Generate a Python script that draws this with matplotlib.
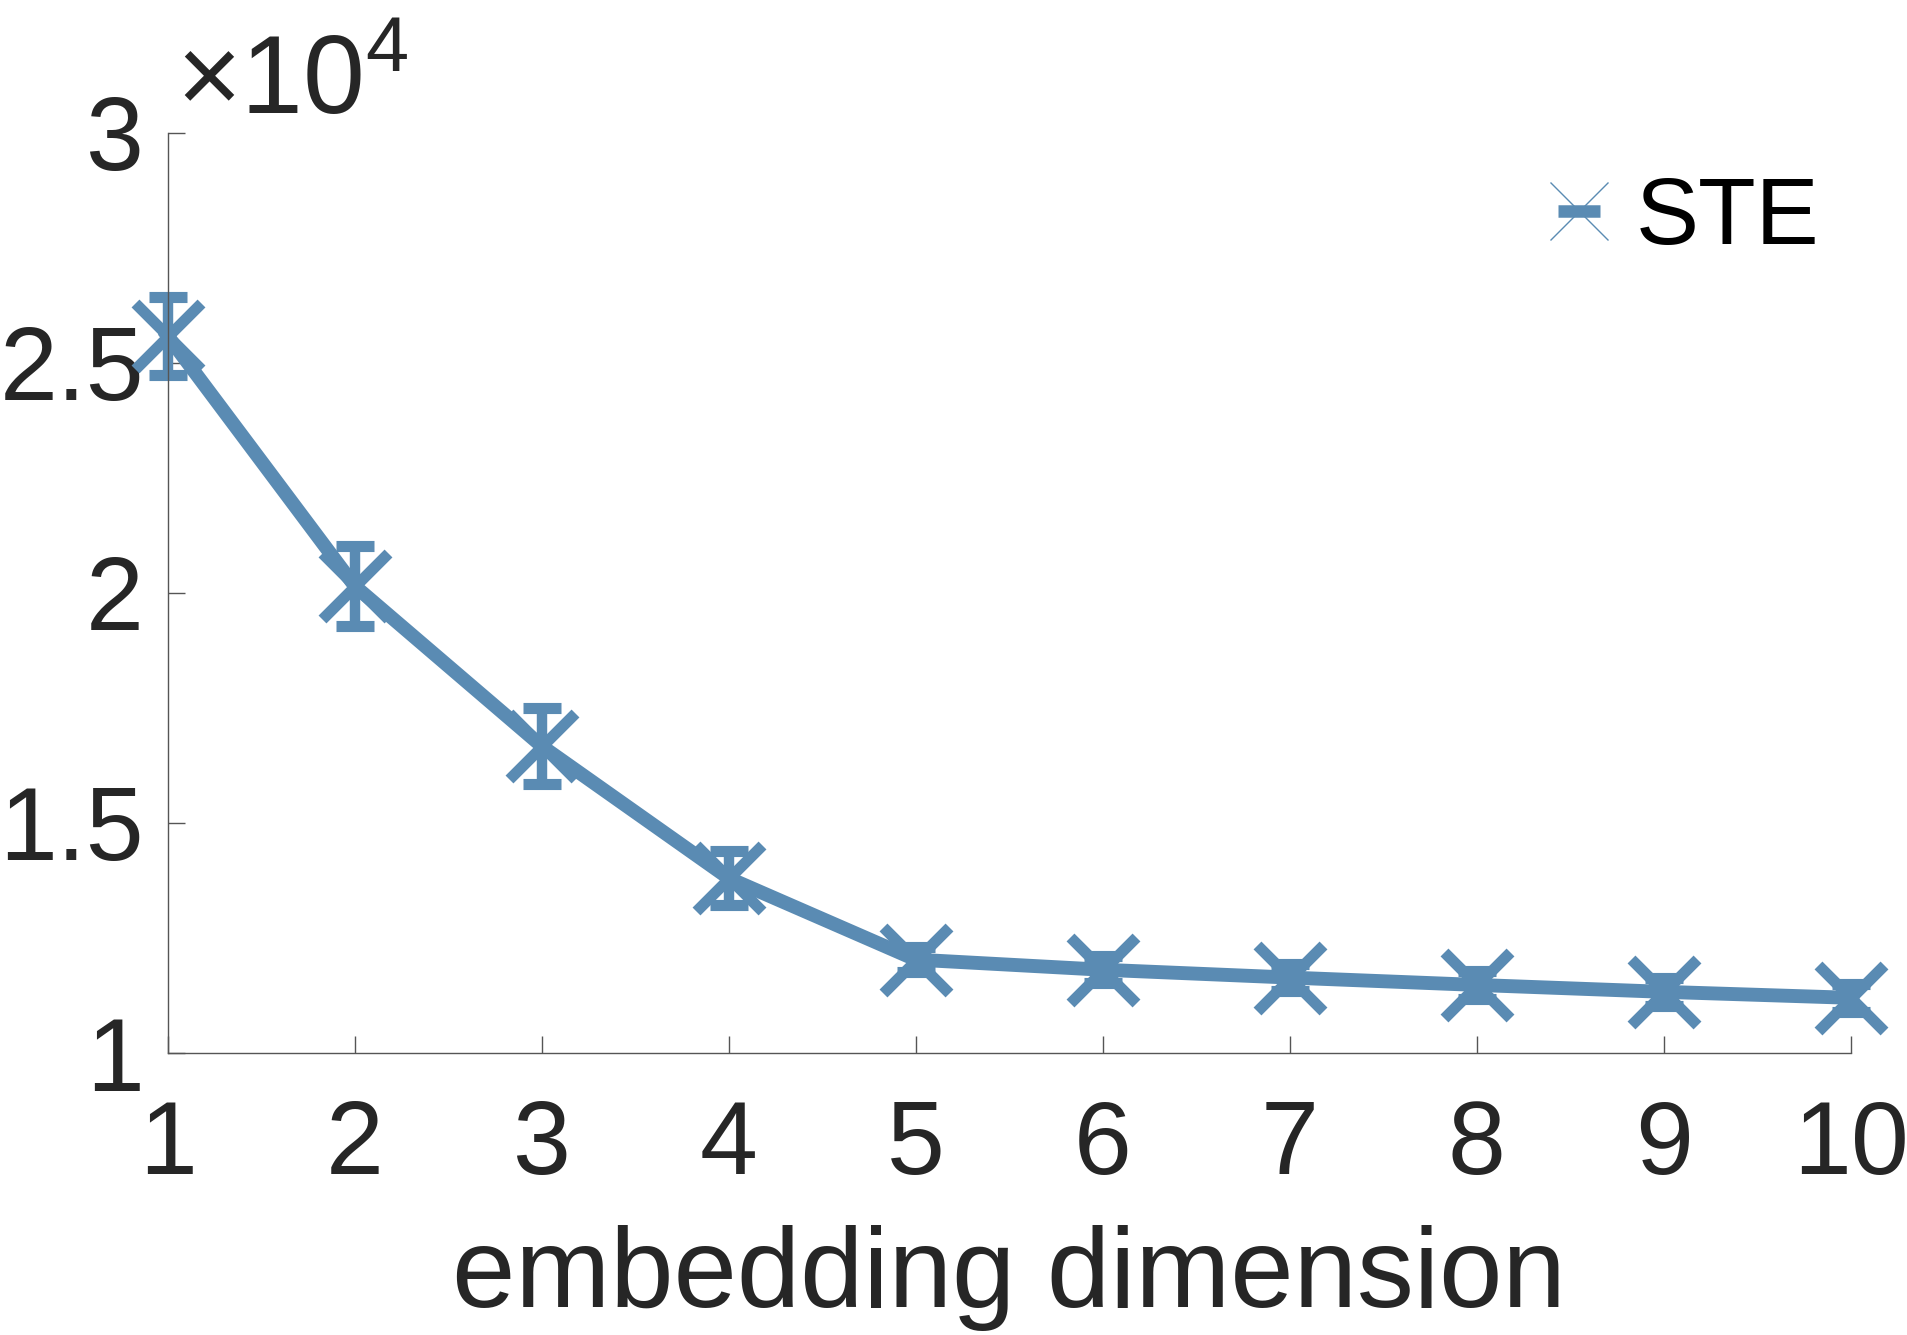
import matplotlib
matplotlib.use("Agg")
import matplotlib.pyplot as plt
import numpy as np
from matplotlib.lines import Line2D
from matplotlib.legend_handler import HandlerTuple
from matplotlib.ticker import FuncFormatter

plt.rcParams['font.family'] = ['Liberation Sans', 'DejaVu Sans']
plt.rcParams['mathtext.fontset'] = 'custom'
plt.rcParams['mathtext.rm'] = 'Liberation Sans'
plt.rcParams['mathtext.it'] = 'Liberation Sans'
plt.rcParams['mathtext.default'] = 'regular'

# data
dims = [1, 2, 3, 4, 5, 6, 7, 8, 9, 10]
ste_mean = [25580, 20150, 16670, 13800, 12030, 11810, 11640, 11480, 11330, 11200]
ste_err = [850, 870, 820, 580, 270, 290, 290, 300, 310, 300]

blue = '#5a8bb3'
txt = '#262626'
axc = '#555555'

fig = plt.figure(figsize=(19.07, 13.35), dpi=100)
ax = fig.add_axes([0.0879, 0.2112, 0.8827, 0.6895])

line, caps, bars = ax.errorbar(dims, ste_mean, yerr=ste_err, color=blue, lw=10,
                               elinewidth=7.5, capsize=14, capthick=9,
                               marker='x', markersize=48, mew=8)
line.set_clip_on(False)
for c in caps:
    c.set_clip_on(False)
for b in bars:
    b.set_clip_on(False)

ax.set_xlim(1, 10)
ax.set_ylim(10000, 30000)
ax.set_xticks(dims)
ax.set_yticks([10000, 15000, 20000, 25000, 30000])
ax.yaxis.set_major_formatter(FuncFormatter(lambda v, p: f'{v / 1e4:g}'))

for s in ['top', 'right']:
    ax.spines[s].set_visible(False)
for s in ['left', 'bottom']:
    ax.spines[s].set_color(axc)
    ax.spines[s].set_linewidth(1.0)

ax.tick_params(direction='in', length=12.5, width=1.0, color=axc,
               labelsize=75, labelcolor=txt)
ax.tick_params(axis='x', pad=33)
ax.tick_params(axis='y', pad=17)

ax.set_xlabel('embedding dimension', fontsize=82, color=txt, labelpad=21)

ax.text(0.005, 0.995, r'$\times10^{4}$', transform=ax.transAxes,
        fontsize=80, color=txt, ha='left', va='bottom')

h_bar = Line2D([], [], color=blue, marker='_', markersize=30, mew=9, ls='none')
h_x = Line2D([], [], color=blue, marker='x', markersize=42, mew=1, ls='none')
ax.legend([(h_bar, h_x)], ['STE'], handler_map={tuple: HandlerTuple(ndivide=1)},
          loc='center left', bbox_to_anchor=(0.816, 0.906), frameon=False,
          fontsize=68, handlelength=0.8, handletextpad=0.2, borderpad=0,
          borderaxespad=0)

fig.savefig('out.png', dpi=100)
